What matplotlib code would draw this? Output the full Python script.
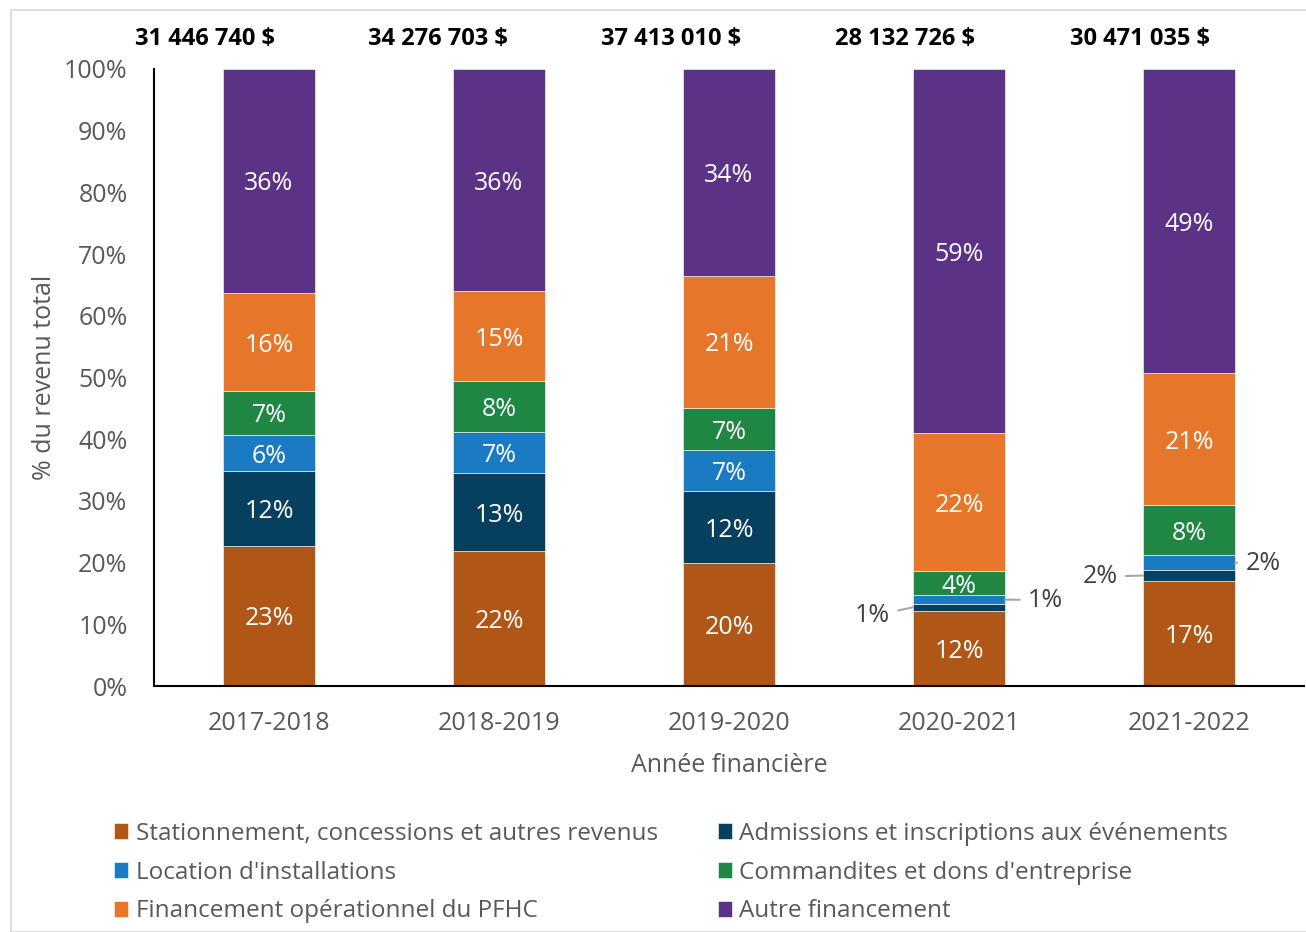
import matplotlib
matplotlib.use("Agg")
import matplotlib.pyplot as plt
from matplotlib.patches import Rectangle
import numpy as np

plt.rcParams['font.family'] = ['Open Sans', 'DejaVu Sans']

years = ["2017-2018", "2018-2019", "2019-2020", "2020-2021", "2021-2022"]
totals = ["31 446 740 $", "34 276 703 $", "37 413 010 $", "28 132 726 $", "30 471 035 $"]

series_names = [
    "Stationnement, concessions et autres revenus",
    "Admissions et inscriptions aux événements",
    "Location d'installations",
    "Commandites et dons d'entreprise",
    "Financement opérationnel du PFHC",
    "Autre financement",
]
stationnement = [22.7, 21.9, 19.9, 12.2, 17.0]
admissions = [12.1, 12.6, 11.7, 1.1, 1.8]
location = [5.9, 6.7, 6.6, 1.4, 2.4]
commandites = [7.1, 8.2, 6.9, 3.9, 8.1]
pfhc = [15.9, 14.6, 21.4, 22.4, 21.4]
autre = [36.3, 36.0, 33.5, 59.0, 49.3]

colors = ["#B05718", "#073F5F", "#1A7BC2", "#1F8643", "#E6772A", "#5C3287"]

series = [stationnement, admissions, location, commandites, pfhc, autre]

fig = plt.figure(figsize=(13.06, 9.32), dpi=100)
ax = fig.add_axes([154 / 1306, 1 - 686 / 932, 1150 / 1306, 617 / 932])

# light frame around the chart area
fig.patches.append(Rectangle((11 / 1306, 0), 1.0, 1 - 10 / 932, transform=fig.transFigure,
                             fill=False, edgecolor="#D9D9D9", linewidth=1.2))

x = np.arange(len(years))
width = 0.4
bottom = np.zeros(len(years))
bars = []
for name, vals, col in zip(series_names, series, colors):
    vals = np.array(vals)
    b = ax.bar(x, vals, width, bottom=bottom, color=col, label=name,
               edgecolor="white", linewidth=0.4)
    bars.append(b)
    for i, (v, bt) in enumerate(zip(vals, bottom)):
        if v >= 3:
            ax.text(x[i], bt + v / 2, f"{round(v):.0f}%", ha="center",
                    va="center_baseline", color="white", fontsize=18)
    bottom = bottom + vals

# small segments labelled outside the bars with leader lines
cum = np.cumsum(np.array(series), axis=0)
callouts = [
    (3, 1, "left", (-0.30, -0.9)),
    (3, 2, "right", (0.30, 0.4)),
    (4, 1, "left", (-0.31, 0.3)),
    (4, 2, "right", (0.245, 0.3)),
]
for i, s, side, (dx, dy) in callouts:
    v = series[s][i]
    mid = cum[s - 1][i] + v / 2
    edge = x[i] - width / 2 if side == "left" else x[i] + width / 2
    ax.annotate(f"{round(v):.0f}%", xy=(edge, mid), xytext=(x[i] + dx, mid + dy),
                ha="right" if side == "left" else "left", va="center_baseline",
                fontsize=18, color="#404040",
                arrowprops=dict(arrowstyle="-", color="#A6A6A6", lw=1.5,
                                shrinkA=4, shrinkB=0))

ax.set_xlim(-0.5, len(years) - 0.5)
ax.set_ylim(0, 100)
ax.set_yticks(np.arange(0, 101, 10))
ax.set_yticklabels([f"{t}%" for t in range(0, 101, 10)])
ax.set_xticks(x)
ax.set_xticklabels(years)
ax.tick_params(axis="both", length=0, labelsize=18, labelcolor="#595959")
ax.tick_params(axis="y", pad=19)
ax.tick_params(axis="x", pad=18)
for sp in ["top", "right"]:
    ax.spines[sp].set_visible(False)
ax.spines["left"].set_color("black")
ax.spines["bottom"].set_color("black")
ax.spines["left"].set_linewidth(1.5)
ax.spines["bottom"].set_linewidth(1.5)

ax.set_xlabel("Année financière", fontsize=18, color="#595959", labelpad=12)
ax.set_ylabel("% du revenu total", fontsize=18, color="#595959", labelpad=5)

# annual totals above each bar
total_offsets = [-0.278, -0.265, -0.252, -0.235, -0.213]
for i, (t, off) in enumerate(zip(totals, total_offsets)):
    ax.text(x[i] + off, 104.8, t, ha="center", va="center", fontsize=17,
            fontweight="bold", color="black", clip_on=False)

order = [0, 2, 4, 1, 3, 5]
handles = [bars[k] for k in order]
labels = [series_names[k] for k in order]
fig.legend(handles, labels, ncol=2, loc="upper left",
           bbox_to_anchor=(104 / 1306, 1 - 812 / 932), frameon=False,
           fontsize=17.5, labelcolor="#595959", handlelength=0.6, handleheight=0.65,
           handletextpad=0.3, columnspacing=2.46, labelspacing=0.61,
           borderaxespad=0.0)

fig.savefig("out.png", dpi=100, facecolor="white")
